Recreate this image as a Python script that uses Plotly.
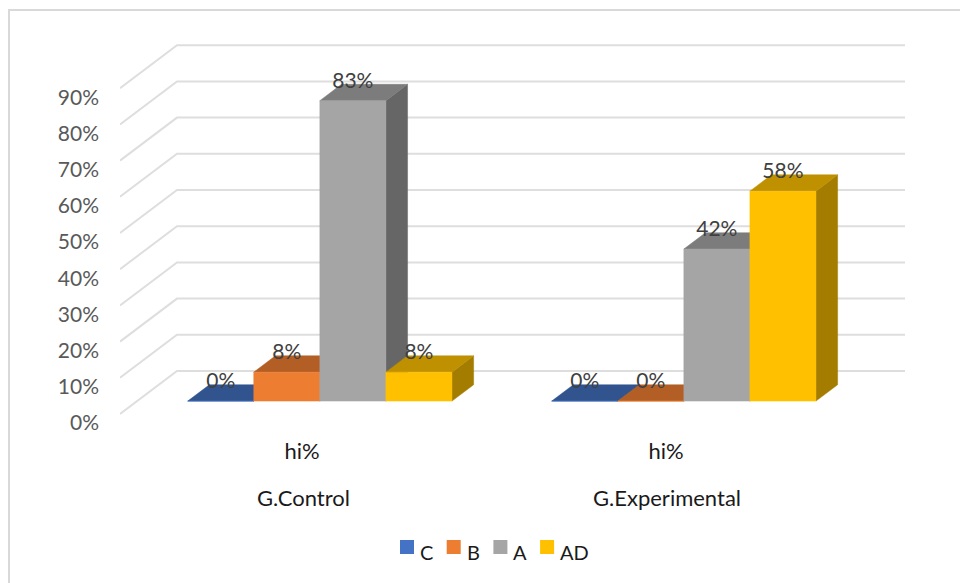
import plotly.graph_objects as go

# Chart data
groups = ["G.Control", "G.Experimental"]
sublabel = "hi%"
series_names = ["C", "B", "A", "AD"]
c_values = [0, 0]
b_values = [8, 0]
a_values = [83, 42]
ad_values = [8, 58]
value_ticks = [0, 10, 20, 30, 40, 50, 60, 70, 80, 90]

series_values = [c_values, b_values, a_values, ad_values]

# Face colours per series: front, top, side
front_colors = ["#4472C4", "#ED7D31", "#A5A5A5", "#FFC000"]
top_colors = ["#31548F", "#B35E25", "#7C7C7C", "#BF9000"]
side_colors = ["#2A4A80", "#9C5020", "#666666", "#A37C00"]

GRID = "#DEDEDE"
FONT = "Lato"

# Figure layout, in pixels
WIDTH, HEIGHT = 960, 583
PLOT_LEFT, PLOT_TOP, PLOT_BOTTOM = 120, 20, 425
ZERO_Y = 414           # pixel row of value 0 on the front edge of the floor
PX_PER_PCT = 3.62
PX_PER_GROUP = 364
DEPTH_DX, DEPTH_DY = 57, 43   # oblique shift between the front and the back wall

# Bar placement inside a group and along the depth
GAP = 0.139
BAR_W = 0.1815
Z_FRONT, Z_BACK = 0.30, 0.68
LABEL_LIFT = 18 / PX_PER_PCT

# Legend row
KEY_LEFT, KEY_STEP, KEY_SIZE, KEY_TOP = 400, 46.7, 14, 540
KEY_TEXT_GAP, KEY_TEXT_Y = 20, 552


def project(group_pos, value, depth):
    """Oblique projection of (group, value, depth) onto the flat x/y axes."""
    return (group_pos + depth * DEPTH_DX / PX_PER_GROUP,
            value + depth * DEPTH_DY / PX_PER_PCT)


def polygon(corners):
    xs, ys = zip(*[project(*c) for c in corners])
    return list(xs) + [xs[0], None], list(ys) + [ys[0], None]


fig = go.Figure()

# Floor-to-wall gridlines
grid_x, grid_y = [], []
for tick in value_ticks:
    for g, z in [(0, 0), (0, 1), (len(groups), 1)]:
        px, py = project(g, tick, z)
        grid_x.append(px)
        grid_y.append(py)
    grid_x.append(None)
    grid_y.append(None)
fig.add_trace(go.Scatter(x=grid_x, y=grid_y, mode="lines", showlegend=False,
                         hoverinfo="skip", line=dict(color=GRID, width=2)))

# Bars: each series is drawn as side, top and front faces, left to right
label_x, label_y, label_text = [], [], []
for s, values in enumerate(series_values):
    faces = {"side": ([], []), "top": ([], []), "front": ([], [])}
    for g, v in enumerate(values):
        x0 = g + GAP + s * BAR_W
        x1 = x0 + BAR_W
        shapes = {
            "side": [(x1, 0, Z_FRONT), (x1, 0, Z_BACK), (x1, v, Z_BACK), (x1, v, Z_FRONT)],
            "top": [(x0, v, Z_FRONT), (x1, v, Z_FRONT), (x1, v, Z_BACK), (x0, v, Z_BACK)],
            "front": [(x0, 0, Z_FRONT), (x1, 0, Z_FRONT), (x1, v, Z_FRONT), (x0, v, Z_FRONT)],
        }
        for name, corners in shapes.items():
            xs, ys = polygon(corners)
            faces[name][0].extend(xs)
            faces[name][1].extend(ys)
        lx, ly = project((x0 + x1) / 2, v, Z_FRONT)
        label_x.append(lx)
        label_y.append(ly + LABEL_LIFT)
        label_text.append(f"{v}%")
    for name, color in [("side", side_colors[s]), ("top", top_colors[s]), ("front", front_colors[s])]:
        fig.add_trace(go.Scatter(x=faces[name][0], y=faces[name][1], mode="lines",
                                 fill="toself", fillcolor=color,
                                 line=dict(color=color, width=0.5),
                                 name=series_names[s], showlegend=False, hoverinfo="skip"))

# Value labels above the bars
fig.add_trace(go.Scatter(x=label_x, y=label_y, mode="text", text=label_text,
                         textposition="middle center", showlegend=False, hoverinfo="skip",
                         textfont=dict(family=FONT, size=21, color="#404040")))

plot_h = PLOT_BOTTOM - PLOT_TOP
plot_w = WIDTH - PLOT_LEFT


def paper_x(px):
    return (px - PLOT_LEFT) / plot_w


def paper_y(py):
    return (PLOT_BOTTOM - py) / plot_h


# Outer chart border: only the top and left edges fall inside the page
frame = (f"M {paper_x(9)},{paper_y(HEIGHT)} L {paper_x(9)},{paper_y(10)} "
         f"L {paper_x(WIDTH)},{paper_y(10)}")
page_shapes = [dict(type="path", xref="paper", yref="paper", path=frame,
                    line=dict(color="#D9D9D9", width=2), layer="below")]

# Group names sit on a second row beneath the axis labels
notes = [dict(x=i + 0.5, xref="x", y=paper_y(497), yref="paper", text=name,
              showarrow=False, xanchor="center", yanchor="middle", xshift=1,
              font=dict(family=FONT, size=22, color="#1A1A1A"))
         for i, name in enumerate(groups)]

# Legend row: a square key followed by the series name, with the text set lower than the key
for s, name in enumerate(series_names):
    left = KEY_LEFT + s * KEY_STEP
    page_shapes.append(dict(type="rect", xref="paper", yref="paper",
                            x0=paper_x(left), x1=paper_x(left + KEY_SIZE),
                            y0=paper_y(KEY_TOP + KEY_SIZE), y1=paper_y(KEY_TOP),
                            fillcolor=front_colors[s], line=dict(width=0)))
    notes.append(dict(x=paper_x(left + KEY_TEXT_GAP), xref="paper",
                      y=paper_y(KEY_TEXT_Y), yref="paper", text=name, showarrow=False,
                      xanchor="left", yanchor="middle", xshift=-2,
                      font=dict(family=FONT, size=20, color="#1A1A1A")))

fig.update_layout(
    width=WIDTH, height=HEIGHT,
    margin=dict(l=PLOT_LEFT, r=0, t=PLOT_TOP, b=HEIGHT - PLOT_BOTTOM, autoexpand=False),
    paper_bgcolor="white", plot_bgcolor="white",
    font=dict(family=FONT, size=21, color="#595959"),
    showlegend=False,
    xaxis=dict(range=[0, plot_w / PX_PER_GROUP], showgrid=False, zeroline=False, showline=False,
               tickmode="array", tickvals=[i + 0.5 for i in range(len(groups))],
               ticktext=[sublabel] * len(groups), ticks="", ticklabelstandoff=11,
               tickfont=dict(family=FONT, size=22, color="#1A1A1A")),
    yaxis=dict(range=[(ZERO_Y - PLOT_BOTTOM) / PX_PER_PCT, (ZERO_Y - PLOT_TOP) / PX_PER_PCT],
               showgrid=False, zeroline=False, showline=False,
               tickmode="array", tickvals=value_ticks,
               ticktext=[f"{t}%" for t in value_ticks], ticks="",
               ticklabelstandoff=20, ticklabelshift=9,
               tickfont=dict(family=FONT, size=21, color="#595959")),
    shapes=page_shapes,
    annotations=notes,
)

fig.write_html("out.html")
